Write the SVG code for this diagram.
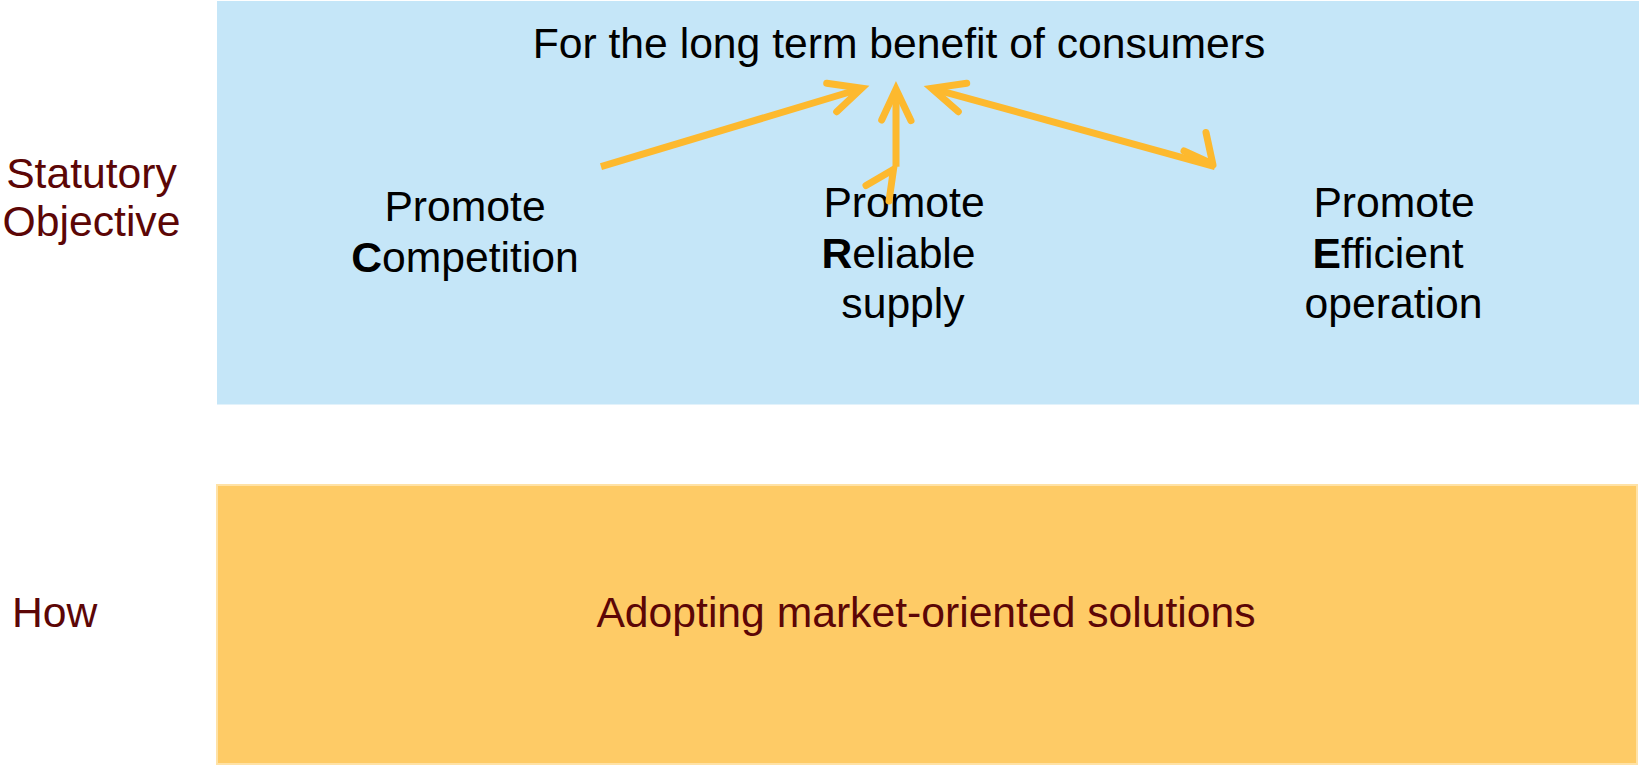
<svg xmlns="http://www.w3.org/2000/svg" width="1639" height="765" viewBox="0 0 1639 765">
  <style>
    .lbl { font-family: "Liberation Sans", Arial, sans-serif; font-size: 42.67px; }
    .side { fill: #5C0606; }
    .body { fill: #000000; text-anchor: middle; }
    .shaft { fill: none; stroke: #FDB92E; stroke-width: 7; stroke-linecap: butt; }
    .head { fill: none; stroke: #FDB92E; stroke-width: 7; stroke-linecap: round; stroke-linejoin: miter; stroke-miterlimit: 10; }
  </style>

  <rect width="1639" height="765" fill="#FFFFFF"/>

  <!-- upper band: statutory objective -->
  <g id="objective-band">
    <rect x="217" y="1" width="1422" height="403.5" fill="#C5E6F8"/>
    <text class="lbl body" x="899" y="57.5">For the long term benefit of consumers</text>
  </g>

  <g id="label-statutory">
    <text class="lbl side" x="91.5" y="188" text-anchor="middle">Statutory</text>
    <text class="lbl side" x="91.5" y="236" text-anchor="middle">Objective</text>
  </g>

  <g id="node-competition">
    <text class="lbl body" x="465" y="221">Promote</text>
    <text class="lbl body" x="465" y="272"><tspan font-weight="bold">C</tspan>ompetition</text>
  </g>

  <g id="node-reliable">
    <text class="lbl body" x="904" y="217">Promote</text>
    <text class="lbl body" x="898.5" y="268"><tspan font-weight="bold">R</tspan>eliable</text>
    <text class="lbl body" x="903" y="318">supply</text>
  </g>

  <g id="node-efficient">
    <text class="lbl body" x="1394" y="217">Promote</text>
    <text class="lbl body" x="1388" y="268"><tspan font-weight="bold">E</tspan>fficient</text>
    <text class="lbl body" x="1393.5" y="318">operation</text>
  </g>

  <!-- lower band: how -->
  <g id="how-band">
    <rect x="217" y="485" width="1420" height="279" fill="#FECB66" stroke="#FFE2A6" stroke-width="2"/>
    <text class="lbl side" x="926" y="627" text-anchor="middle">Adopting market-oriented solutions</text>
  </g>

  <g id="label-how">
    <text class="lbl side" x="12" y="627">How</text>
  </g>

  <!-- connectors -->
  <g id="connectors">
    <!-- competition -> consumers -->
    <line class="shaft" x1="601" y1="166.7" x2="858" y2="89.5"/>
    <polyline class="head" points="826.7,83.3 861.7,88.3 836.7,111.7"/>

    <!-- reliable supply -> consumers -->
    <line class="shaft" x1="896" y1="166.7" x2="896" y2="93"/>
    <polyline class="head" points="881.7,120 896,89.3 911,120.7"/>
    <polyline class="head" points="866,185.5 893.5,169.5 889,201"/>

    <!-- consumers <-> efficient operation -->
    <line class="shaft" x1="935" y1="89.3" x2="1215" y2="166.7"/>
    <polyline class="head" points="966.7,83.3 931.7,88.3 958.3,111.7"/>
    <polyline class="head" points="1206,132.5 1213,165"/>
    <polyline class="head" points="1184,151 1207,161.5"/>
  </g>
</svg>
